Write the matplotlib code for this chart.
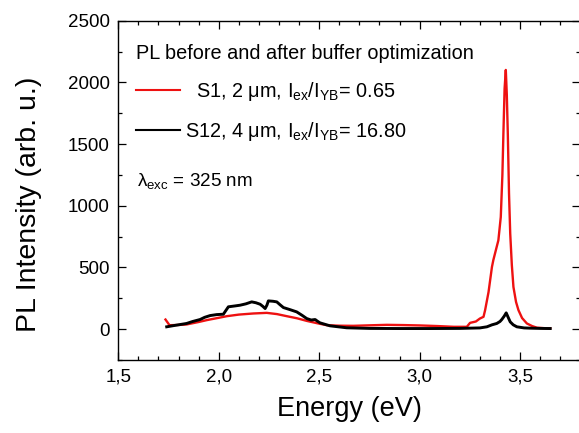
import matplotlib
matplotlib.use("Agg")
import matplotlib.pyplot as plt
from matplotlib.ticker import MultipleLocator, FuncFormatter

plt.rcParams['font.family'] = ['Liberation Sans', 'DejaVu Sans']
plt.rcParams['mathtext.fontset'] = 'custom'
plt.rcParams['mathtext.rm'] = 'Liberation Sans'
plt.rcParams['mathtext.it'] = 'Liberation Sans:italic'
plt.rcParams['mathtext.default'] = 'regular'

# S1 (2 um buffer) spectrum
e_s1 = [1.735, 1.745, 1.755, 1.80, 1.84, 1.90, 1.94, 2.00, 2.04, 2.10, 2.172,
        2.239, 2.29, 2.339, 2.39, 2.438, 2.49, 2.538, 2.60, 2.67, 2.75, 2.837,
        2.92, 3.002, 3.09, 3.17, 3.235, 3.251, 3.28, 3.30, 3.318, 3.326, 3.343,
        3.36, 3.367, 3.381, 3.392, 3.404, 3.412, 3.417, 3.423, 3.429, 3.434,
        3.439, 3.445, 3.451, 3.459, 3.467, 3.48, 3.492, 3.51, 3.534, 3.56,
        3.584, 3.62, 3.65]
i_s1 = [78, 55, 32, 34, 38, 58, 73, 92, 105, 118, 127,
        132, 122, 105, 88, 67, 48, 32, 28, 27, 31, 35,
        33, 30, 25, 19, 19, 51, 62, 86, 100, 154, 300,
        504, 560, 650, 720, 909, 1250, 1583, 1950, 2101, 1900,
        1583, 1100, 774, 520, 342, 220, 154, 90, 46, 25,
        12, 8, 7]

# S12 (4 um buffer) spectrum
e_s12 = [1.741, 1.78, 1.84, 1.87, 1.907, 1.93, 1.957, 1.99, 2.023, 2.035,
         2.048, 2.08, 2.106, 2.135, 2.164, 2.185, 2.206, 2.22, 2.231, 2.24,
         2.247, 2.27, 2.289, 2.305, 2.322, 2.355, 2.388, 2.415, 2.438, 2.46,
         2.48, 2.49, 2.504, 2.554, 2.637, 2.75, 2.9, 3.05, 3.2, 3.30, 3.335,
         3.36, 3.384, 3.40, 3.409, 3.421, 3.431, 3.441, 3.451, 3.466, 3.484,
         3.52, 3.55, 3.60, 3.65]
i_s12 = [19, 30, 46, 62, 78, 96, 110, 118, 121, 150,
         181, 188, 194, 205, 221, 214, 202, 184, 167, 195,
         229, 226, 221, 198, 175, 158, 140, 112, 86, 74,
         78, 66, 51, 27, 11, 6, 5, 5, 6, 10, 19,
         35, 46, 62, 78, 105, 132, 95, 59, 35, 19,
         10, 8, 6, 5]

x_ticks = [1.5, 2.0, 2.5, 3.0, 3.5]
y_ticks = [0, 500, 1000, 1500, 2000, 2500]

fig = plt.figure(figsize=(5.79, 4.33), dpi=100)
ax = fig.add_axes([0.2043, 0.1686, 0.798, 0.7836])

ax.plot(e_s1, i_s1, color='#ee1111', lw=1.7,
        label='  S1, 2 \u03bcm, I$_{ex}$/I$_{YB}$= 0.65')
ax.plot(e_s12, i_s12, color='black', lw=2.1,
        label='S12, 4 \u03bcm, I$_{ex}$/I$_{YB}$= 16.80')

ax.set_xlim(1.5, 3.8)
ax.set_ylim(-250, 2500)
ax.set_xticks(x_ticks)
ax.set_yticks(y_ticks)
ax.xaxis.set_minor_locator(MultipleLocator(0.1))
ax.yaxis.set_minor_locator(MultipleLocator(250))
ax.xaxis.set_major_formatter(FuncFormatter(lambda v, p: f'{v:.1f}'.replace('.', ',')))
ax.tick_params(which='both', direction='in', top=True, right=True,
               labelsize=13.5, width=0.9)
ax.tick_params(which='major', length=6, pad=6)
ax.tick_params(which='minor', length=3)
for s in ax.spines.values():
    s.set_linewidth(1.0)

ax.set_xlabel('Energy (eV)', fontsize=19.5, labelpad=8)
ax.set_ylabel('PL Intensity (arb. u.)', fontsize=20.5)
ax.yaxis.set_label_coords(-0.165, 0.46)

leg = ax.legend(loc='upper left', frameon=False, fontsize=14.3,
                title='PL before and after buffer optimization',
                title_fontsize=14.3, alignment='left',
                handlelength=2.2, handletextpad=0.28, labelspacing=0.84,
                borderaxespad=0.0, borderpad=0.0,
                bbox_to_anchor=(0.038, 0.93))
for h in leg.get_lines():
    h.set_linewidth(1.5)

ax.text(0.040, 0.513, '\u03bb$_{exc}$ = 325 nm', transform=ax.transAxes,
        fontsize=13.6, va='baseline')

fig.savefig('out.png', dpi=100)
